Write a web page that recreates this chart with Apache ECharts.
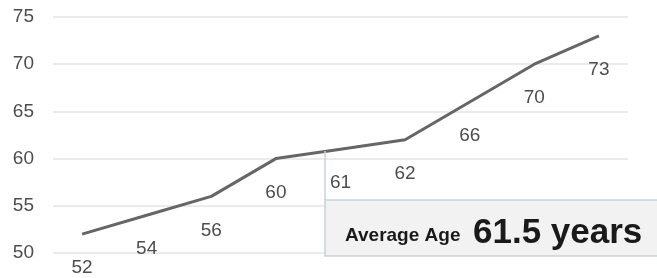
<!DOCTYPE html>
<html>
<head>
<meta charset="utf-8">
<script src="https://cdn.jsdelivr.net/npm/echarts@6/dist/echarts.min.js"></script>
<style>
  html, body { margin: 0; padding: 0; background: #fff; }
  #chart { width: 657px; height: 278px; }
</style>
</head>
<body>
<div id="chart"></div>
<script>
// age by point, left to right
var ages = [52, 54, 56, 60, 61, 62, 66, 70, 73];
var yTicks = { min: 50, max: 75, step: 5 };
var avgLabel = 'Average Age';
var avgValue = '61.5 years';

var myChart = echarts.init(document.getElementById('chart'));

var option = {
  animation: false,
  grid: { left: 53, right: 29, top: 17, bottom: 25 },
  xAxis: {
    type: 'value',
    min: -0.45,
    max: 8.45,
    show: false
  },
  yAxis: {
    type: 'value',
    min: yTicks.min,
    max: yTicks.max,
    interval: yTicks.step,
    axisLine: { show: false },
    axisTick: { show: false },
    axisLabel: {
      margin: 19,
      color: '#4d4d4d',
      fontSize: 19,
      fontFamily: 'Liberation Sans, Arial, sans-serif'
    },
    splitLine: { lineStyle: { color: '#e4e4e4', width: 1.5 } }
  },
  series: [{
    type: 'line',
    data: ages.map(function (v, i) { return [i, v]; }),
    symbol: 'circle',
    symbolSize: 1,
    itemStyle: { color: 'rgba(0,0,0,0)' },
    lineStyle: { color: '#666666', width: 3 },
    label: {
      show: true,
      position: 'bottom',
      distance: 24,
      color: '#4d4d4d',
      fontSize: 19,
      fontFamily: 'Liberation Sans, Arial, sans-serif',
      formatter: function (p) { return p.value[1]; }
    }
  }],
  graphic: [
    {
      type: 'line',
      shape: { x1: 325, y1: 151, x2: 325, y2: 200 },
      style: { stroke: '#c5d3dc', lineWidth: 1.5 },
      z: 10
    },
    {
      type: 'rect',
      shape: { x: 325, y: 200, width: 340, height: 56 },
      style: { fill: '#f2f2f2', stroke: '#c5d3dc', lineWidth: 1.5 },
      z: 10
    },
    {
      type: 'text',
      x: 345,
      y: 236,
      style: {
        text: avgLabel,
        fill: '#1a1a1a',
        font: 'bold 19px Liberation Sans, Arial, sans-serif',
        verticalAlign: 'middle'
      },
      z: 11
    },
    {
      type: 'text',
      x: 473,
      y: 233,
      style: {
        text: avgValue,
        fill: '#1a1a1a',
        font: 'bold 35px Liberation Sans, Arial, sans-serif',
        verticalAlign: 'middle'
      },
      z: 11
    }
  ]
};

myChart.setOption(option);
</script>
</body>
</html>
